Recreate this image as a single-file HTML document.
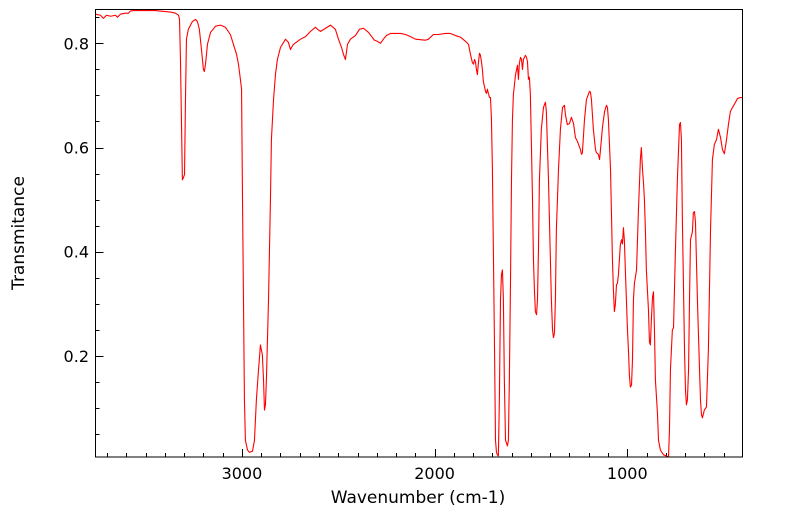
<!DOCTYPE html>
<html><head><meta charset="utf-8">
<style>
html,body{margin:0;padding:0;background:#fff;}
svg{display:block;font-family:"DejaVu Sans","Liberation Sans",sans-serif;}
</style></head>
<body>
<svg id="chart" width="799" height="516" viewBox="0 0 799 516" xmlns="http://www.w3.org/2000/svg">
<g id="ticks"></g>
<path id="series" fill="none" stroke="#ff0000" stroke-width="1.1" stroke-linejoin="round"></path>
<rect x="95.5" y="9.5" width="647" height="447.5" fill="none" stroke="#000" stroke-width="1"/>
<text x="418" y="503" font-size="17" text-anchor="middle">Wavenumber (cm-1)</text>
<text x="24" y="233" font-size="17" text-anchor="middle" transform="rotate(-90 24 233)">Transmitance</text>
</svg>
<script>
const xTickValues = [3000, 2000, 1000];
const xTickLabels = ["3000", "2000", "1000"];
const yTickValues = [0.2, 0.4, 0.6, 0.8];
const yTickLabels = ["0.2", "0.4", "0.6", "0.8"];
const wavenumbers = [3760,3734,3719,3703,3682,3656,3646,3631,3605,3589,3579,3563,3501,3449,3423,3371,3345,3329,3324,3319,3314,3309,3304,3298,3293,3288,3278,3257,3241,3231,3221,3210,3200,3195,3189,3179,3163,3137,3111,3086,3060,3044,3028,3018,3008,3002,2997,2992,2987,2982,2971,2961,2945,2935,2930,2925,2914,2904,2894,2888,2883,2878,2873,2862,2852,2847,2836,2826,2816,2800,2774,2759,2748,2743,2733,2696,2670,2644,2618,2608,2592,2566,2540,2515,2499,2483,2473,2463,2452,2437,2411,2390,2369,2343,2312,2297,2281,2266,2250,2229,2203,2177,2151,2125,2099,2048,2032,2006,1980,1944,1918,1892,1866,1840,1824,1814,1804,1798,1793,1788,1783,1778,1772,1767,1762,1757,1752,1747,1736,1731,1726,1721,1715,1710,1705,1700,1695,1689,1684,1679,1674,1669,1664,1658,1653,1648,1643,1638,1632,1622,1617,1612,1606,1601,1596,1591,1580,1570,1565,1560,1554,1549,1544,1539,1534,1529,1523,1518,1513,1508,1503,1497,1492,1487,1482,1477,1471,1466,1461,1456,1446,1435,1425,1420,1409,1399,1394,1388,1383,1378,1373,1368,1357,1347,1336,1326,1321,1311,1300,1290,1279,1269,1259,1243,1238,1233,1222,1212,1202,1196,1191,1186,1176,1165,1160,1150,1144,1139,1129,1118,1108,1103,1098,1087,1077,1072,1067,1062,1056,1051,1046,1036,1030,1025,1020,1015,1010,999,994,989,984,978,973,968,963,952,947,942,932,927,921,916,911,906,901,890,885,880,875,869,864,859,854,843,838,828,812,786,781,776,766,760,750,740,729,724,719,714,703,698,693,688,682,677,672,662,657,651,646,636,625,620,615,610,600,589,579,568,558,548,537,532,527,516,506,496,485,475,465,454,444,428,413,402];
const transmittance = [.856,.854,.848,.854,.852,.854,.850,.856,.858,.858,.862,.863,.863,.863,.862,.860,.858,.854,.846,.769,.654,.538,.542,.548,.692,.808,.827,.842,.846,.842,.827,.788,.750,.746,.760,.798,.821,.833,.835,.831,.817,.798,.779,.760,.731,.712,.500,.308,.115,.038,.019,.015,.017,.038,.077,.115,.173,.221,.202,.154,.096,.106,.154,.308,.500,.615,.692,.740,.769,.792,.808,.802,.788,.792,.798,.808,.813,.823,.831,.827,.823,.829,.835,.827,.808,.792,.779,.769,.798,.808,.815,.827,.829,.821,.806,.804,.800,.808,.815,.819,.819,.819,.817,.813,.808,.806,.808,.817,.817,.819,.819,.815,.812,.804,.798,.779,.763,.760,.769,.765,.750,.740,.765,.781,.777,.765,.750,.727,.708,.704,.712,.704,.696,.696,.654,.558,.404,.212,.038,.015,.010,.008,.115,.308,.356,.365,.308,.154,.038,.027,.038,.154,.346,.538,.654,.702,.740,.758,.731,.762,.773,.769,.750,.769,.773,.777,.773,.765,.731,.735,.702,.596,.500,.385,.327,.285,.279,.308,.404,.538,.635,.677,.687,.669,.538,.385,.308,.250,.235,.244,.308,.442,.558,.635,.677,.681,.663,.644,.646,.658,.646,.619,.612,.596,.587,.590,.654,.692,.702,.708,.706,.692,.635,.596,.590,.587,.577,.596,.638,.669,.681,.677,.654,.558,.385,.327,.285,.298,.337,.339,.356,.413,.423,.415,.446,.421,.365,.250,.212,.163,.140,.144,.192,.308,.339,.365,.423,.481,.577,.600,.558,.533,.500,.442,.365,.288,.227,.221,.269,.313,.323,.250,.154,.087,.038,.019,.010,.006,.058,.173,.250,.254,.404,.538,.644,.648,.615,.461,.212,.135,.106,.115,.173,.308,.423,.438,.475,.477,.456,.308,.173,.115,.087,.081,.096,.102,.212,.442,.577,.606,.615,.625,.635,.619,.596,.588,.615,.644,.669,.677,.683,.694,.696,.696];

const NS = "http://www.w3.org/2000/svg";
const L = 95.5, R = 742.5, T = 9.5, B = 457;
const xMin = 3760, xMax = 402, yMin = 0.0058, yMax = 0.865;
function xScale(w){ return L + (xMin - w) / (xMin - xMax) * (R - L); }
function yScale(t){ return B - (t - yMin) / (yMax - yMin) * (B - T); }

const g = document.getElementById('ticks');
function line(x1,y1,x2,y2){
  const l = document.createElementNS(NS,'line');
  l.setAttribute('x1',x1);l.setAttribute('y1',y1);l.setAttribute('x2',x2);l.setAttribute('y2',y2);
  l.setAttribute('stroke','#000');l.setAttribute('stroke-width','1');
  
  
  g.appendChild(l);
}
// minor x ticks every 100
for (let w = 3700; w >= 500; w -= 100) {
  const x = Math.round(xScale(w)) + 0.5;
  const len = (w % 1000 === 0) ? 8 : 4;
  line(x, B, x, B - len);
}
// minor y ticks every 0.05
for (let k = 1; k <= 17; k++) {
  const v = k * 0.05;
  const y = Math.round(yScale(v)) + 0.5;
  const len = (k % 4 === 0) ? 8 : 4;
  line(L, y, L + len, y);
}
xTickValues.forEach((v,i) => {
  const t = document.createElementNS(NS,'text');
  t.setAttribute('x', xScale(v)); t.setAttribute('y', 479);
  t.setAttribute('font-size','16'); t.setAttribute('text-anchor','middle');
  
  
  t.textContent = xTickLabels[i];
  g.appendChild(t);
});
yTickValues.forEach((v,i) => {
  const t = document.createElementNS(NS,'text');
  t.setAttribute('x', 89); t.setAttribute('y', yScale(v) + 6);
  t.setAttribute('font-size','16'); t.setAttribute('text-anchor','end');
  
  
  t.textContent = yTickLabels[i];
  g.appendChild(t);
});
let d = '';
wavenumbers.forEach((w,i) => {
  d += (i ? 'L' : 'M') + xScale(w).toFixed(2) + ',' + yScale(transmittance[i]).toFixed(2);
});
document.getElementById('series').setAttribute('d', d);
</script>
</body></html>
